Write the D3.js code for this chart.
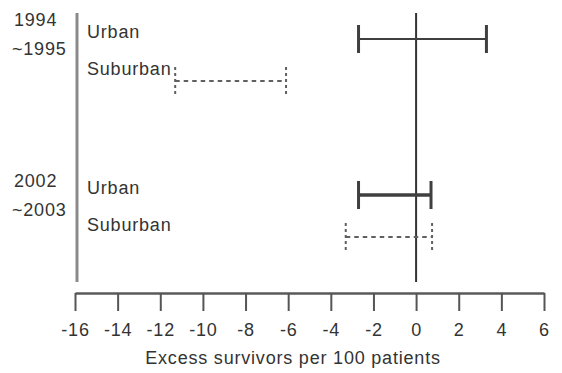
<!DOCTYPE html>
<html>
<head>
<meta charset="utf-8">
<script src="https://cdn.jsdelivr.net/npm/d3@7"></script>
<style>
  html, body { margin: 0; padding: 0; background: #fff; }
  svg { display: block; }
  text { font-family: "Liberation Sans", Arial, Helvetica, sans-serif; fill: #333; letter-spacing: 0.8px; }
</style>
</head>
<body>
<svg id="chart" width="562" height="373"></svg>
<script>
// Excess survivors per 100 patients: 95% interval limits by period and setting
const periods = ["1994~1995", "2002~2003"];
const periodLines = [["1994", "~1995"], ["2002", "~2003"]];
const settings = ["Urban", "Suburban"];
const lower = [[-2.7, -11.3], [-2.7, -3.3]];
const upper = [[3.3, -6.1], [0.7, 0.75]];
const tickValues = [-16, -14, -12, -10, -8, -6, -4, -2, 0, 2, 4, 6];
const axisTitle = "Excess survivors per 100 patients";

const FONT = 18;
const svg = d3.select("#chart");

const x = d3.scaleLinear().domain([-16, 6]).range([75, 544]);
const yPeriod = d3.scalePoint().domain(periods).range([60, 216]);
const yPeriodLabel = d3.scalePoint().domain(periods).range([26, 187]);
const ySetting = d3.scalePoint().domain(settings).range([-21, 21]);

const rows = [];
periods.forEach((p, i) => settings.forEach((s, j) => {
  rows.push({ period: p, setting: s, lo: lower[i][j], hi: upper[i][j], y: yPeriod(p) + ySetting(s) });
}));

const plotTop = 13, plotBottom = 282;

// left grey rule
svg.append("line")
  .attr("x1", x(-16) + 2).attr("x2", x(-16) + 2)
  .attr("y1", plotTop).attr("y2", plotBottom)
  .attr("stroke", "#8a8a8a").attr("stroke-width", 3);

// zero reference line
svg.append("line")
  .attr("x1", x(0)).attr("x2", x(0))
  .attr("y1", plotTop).attr("y2", plotBottom)
  .attr("stroke", "#333").attr("stroke-width", 2);

// period labels
periods.forEach((p, i) => {
  const t = svg.append("text")
    .attr("y", yPeriodLabel(p))
    .attr("font-size", FONT);
  periodLines[i].forEach((ln, k) => {
    t.append("tspan").attr("x", k === 0 ? 14 : 12).attr("dy", k === 0 ? 0 : 29).text(ln);
  });
});

// setting labels
svg.selectAll("text.setting")
  .data(rows)
  .join("text")
  .attr("class", "setting")
  .attr("x", 87)
  .attr("y", d => d.y - (d.setting === "Urban" ? 1 : 6))
  .attr("font-size", FONT)
  .text(d => d.setting);

// interval bars
const bars = svg.selectAll("g.bar")
  .data(rows)
  .join("g")
  .attr("class", "bar");

const isUrban = d => d.setting === "Urban";
const strokeW = d => isUrban(d) ? (d.period === periods[1] ? 3.5 : 2) : 2;
const dash = d => isUrban(d) ? null : "4.5,4";
const col = d => isUrban(d) ? "#3f3f3f" : "#606060";

bars.append("line")
  .attr("x1", d => x(d.lo)).attr("x2", d => x(d.hi))
  .attr("y1", d => d.y).attr("y2", d => d.y)
  .attr("stroke", col).attr("stroke-width", strokeW)
  .attr("stroke-dasharray", dash);

bars.selectAll("line.cap")
  .data(d => [{ ...d, v: d.lo }, { ...d, v: d.hi }])
  .join("line")
  .attr("class", "cap")
  .attr("x1", d => x(d.v)).attr("x2", d => x(d.v))
  .attr("y1", d => d.y - 14).attr("y2", d => d.y + 14)
  .attr("stroke", col)
  .attr("stroke-width", d => isUrban(d) ? 3 : 2)
  .attr("stroke-dasharray", d => isUrban(d) ? null : "3,3");

// x axis
const axis = d3.axisBottom(x)
  .tickValues(tickValues)
  .tickFormat(d => String(d))
  .tickSize(18)
  .tickSizeOuter(0)
  .tickPadding(12);

const gx = svg.append("g")
  .attr("transform", "translate(0,293)")
  .call(axis);

gx.select(".domain").attr("stroke", "#5a5a5a").attr("stroke-width", 2.5);
gx.selectAll(".tick line").attr("stroke", "#555").attr("stroke-width", 2);
gx.selectAll(".tick text")
  .attr("font-size", FONT)
  .attr("font-family", "Liberation Sans, Arial, sans-serif")
  .attr("fill", "#333");

svg.append("text")
  .attr("x", 293)
  .attr("y", 364)
  .attr("text-anchor", "middle")
  .attr("font-size", FONT)
  .text(axisTitle);
</script>
</body>
</html>
